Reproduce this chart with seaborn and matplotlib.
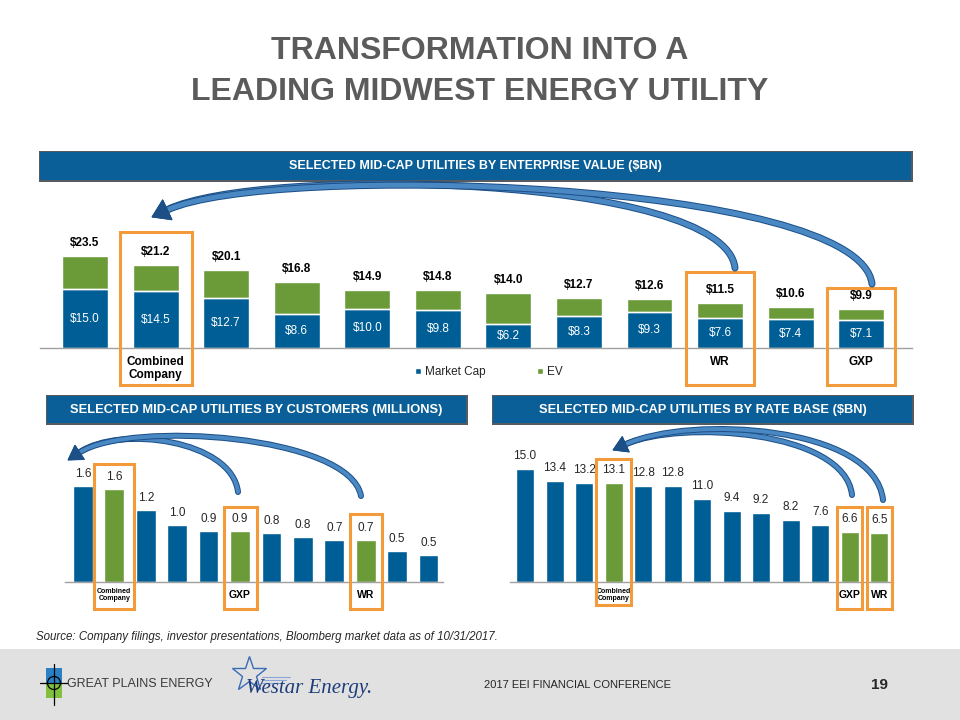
import numpy as np
import pandas as pd
import matplotlib
matplotlib.use("Agg")
import matplotlib.pyplot as plt
import seaborn as sns
from matplotlib.patches import Rectangle, Circle, PathPatch, Polygon
from matplotlib.path import Path

# ---------------- data ----------------
ev_total = [23.5, 21.2, 20.1, 16.8, 14.9, 14.8, 14.0, 12.7, 12.6, 11.5, 10.6, 9.9]
market_cap = [15.0, 14.5, 12.7, 8.6, 10.0, 9.8, 6.2, 8.3, 9.3, 7.6, 7.4, 7.1]
ev_ticks = ["", "Combined\nCompany", "", "", "", "", "", "", "", "WR", "", "GXP"]

customers = [1.60, 1.56, 1.20, 0.96, 0.86, 0.86, 0.82, 0.76, 0.70, 0.70, 0.52, 0.46]
cust_ticks = ["", "Combined\nCompany", "", "", "", "GXP", "", "", "", "WR", "", ""]

rate_base = [15.0, 13.4, 13.2, 13.1, 12.8, 12.8, 11.0, 9.4, 9.2, 8.2, 7.6, 6.6, 6.5]
rate_ticks = ["", "", "", "Combined\nCompany", "", "", "", "", "", "", "", "GXP", "WR"]

title_lines = ["TRANSFORMATION INTO A", "LEADING MIDWEST ENERGY UTILITY"]
banner_ev = "SELECTED MID-CAP UTILITIES BY ENTERPRISE VALUE ($BN)"
banner_cust = "SELECTED MID-CAP UTILITIES BY CUSTOMERS (MILLIONS)"
banner_rate = "SELECTED MID-CAP UTILITIES BY RATE BASE ($BN)"
source_text = "Source: Company filings, investor presentations, Bloomberg market data as of 10/31/2017."

# ---------------- style ----------------
BLUE = "#005e96"
GREEN = "#6b9a38"
ORANGE = "#f39b3a"
BANNER = "#0b5f98"
ARROW_FC = "#4a88c4"
ARROW_EC = "#1b4f86"
TXT = "#262626"

sns.set_theme(style="white")
plt.rcParams["font.family"] = ["Liberation Sans", "DejaVu Sans"]

W, H = 960, 720
fig = plt.figure(figsize=(9.6, 7.2), dpi=100)
fig.patch.set_facecolor("white")


def fax(x0, y0, x1, y1):
    return fig.add_axes([x0 / W, 1 - y1 / H, (x1 - x0) / W, (y1 - y0) / H])


def style_axis(ax, xlim, ylim):
    ax.set_xlim(*xlim)
    ax.set_ylim(*ylim)
    for s in ["left", "right", "top"]:
        ax.spines[s].set_visible(False)
    ax.spines["bottom"].set_color("#a0a0a0")
    ax.spines["bottom"].set_linewidth(1.0)
    ax.set_xticks([])
    ax.set_yticks([])
    ax.set_xlabel("")
    ax.set_ylabel("")
    ax.patch.set_visible(False)


# ---------------- top chart: enterprise value ----------------
ax1 = fax(40, 190, 912, 348)
df1 = pd.DataFrame({"pos": list(range(len(ev_total))), "ev": ev_total, "mc": market_cap})
sns.barplot(data=df1, x="pos", y="ev", color=GREEN, saturation=1, width=0.65,
            errorbar=None, ax=ax1, label="EV")
sns.barplot(data=df1, x="pos", y="mc", color=BLUE, saturation=1, width=0.65,
            errorbar=None, ax=ax1, label="Market Cap")
ax1.hlines(market_cap, np.arange(len(market_cap)) - 0.325, np.arange(len(market_cap)) + 0.325,
           color="white", lw=1.0, zorder=5)
style_axis(ax1, (-0.638, 11.72), (0, 40.5))
for i, (t, m) in enumerate(zip(ev_total, market_cap)):
    ax1.annotate(f"${t:.1f}", (i, t), xytext=(0, 13), textcoords="offset pixels",
                 ha="center", va="center", fontsize=8.5, fontweight="bold", color="black")
    ax1.annotate(f"${m:.1f}", (i, m / 2), ha="center", va="center",
                 fontsize=8.5, color="white")
for i, lab in enumerate(ev_ticks):
    if lab:
        ax1.annotate(lab, (i, 0), xytext=(0, -8), textcoords="offset pixels",
                     ha="center", va="top", fontsize=8.5, fontweight="bold",
                     color="black", linespacing=1.1, annotation_clip=False)
leg = ax1.legend(handles=[ax1.containers[1], ax1.containers[0]], labels=["Market Cap", "EV"],
                 loc="center", bbox_to_anchor=(489 / W, 1 - 372 / H),
                 bbox_transform=fig.transFigure, ncol=2, frameon=False, fontsize=8.5,
                 handlelength=0.45, handleheight=0.45, handletextpad=0.35,
                 columnspacing=4.4)

# ---------------- bottom-left chart: customers ----------------
ax2 = fax(65, 430, 443, 582)
df2 = pd.DataFrame({"pos": list(range(len(customers))), "val": customers,
                    "grp": ["hi" if t else "peer" for t in cust_ticks]})
sns.barplot(data=df2, x="pos", y="val", hue="grp", palette={"peer": BLUE, "hi": GREEN},
            dodge=False, saturation=1, width=0.63, errorbar=None, legend=False, ax=ax2)
style_axis(ax2, (-0.57, 11.46), (0, 152 / 59.75))
for i, v in enumerate(customers):
    ax2.annotate(f"{v:.1f}", (i, v), xytext=(0, 12), textcoords="offset pixels",
                 ha="center", va="center", fontsize=8.5, color=TXT)

# ---------------- bottom-right chart: rate base ----------------
ax3 = fax(510, 430, 893, 582)
df3 = pd.DataFrame({"pos": list(range(len(rate_base))), "val": rate_base,
                    "grp": ["hi" if t else "peer" for t in rate_ticks]})
sns.barplot(data=df3, x="pos", y="val", hue="grp", palette={"peer": BLUE, "hi": GREEN},
            dodge=False, saturation=1, width=0.61, errorbar=None, legend=False, ax=ax3)
style_axis(ax3, (-0.51, 12.47), (0, 152 / 7.53))
for i, v in enumerate(rate_base):
    ax3.annotate(f"{v:.1f}", (i, v), xytext=(0, 13), textcoords="offset pixels",
                 ha="center", va="center", fontsize=8.5, color=TXT)

for ax, ticks in [(ax2, cust_ticks), (ax3, rate_ticks)]:
    for i, lab in enumerate(ticks):
        if lab:
            small = "\n" in lab
            ax.annotate(lab, (i, 0), xytext=(0, -13), textcoords="offset pixels",
                        ha="center", va="center", fontsize=5 if small else 7.5,
                        fontweight="bold", color="black", linespacing=1.15,
                        annotation_clip=False)

# ---------------- overlay (pixel coordinates) ----------------
ov = fig.add_axes([0, 0, 1, 1], zorder=10)
ov.set_xlim(0, W)
ov.set_ylim(H, 0)
ov.axis("off")
ov.patch.set_visible(False)


def xpix(ax, i):
    return ax.transData.transform((i, 0))[0]


def box(ax, i, half, y0, y1):
    xc = xpix(ax, i)
    ov.add_patch(Rectangle((xc - half, y0), 2 * half, y1 - y0, fill=False,
                           ec=ORANGE, lw=2.2, zorder=6))


# highlight boxes
box(ax1, 1, 36, 232, 385)
box(ax1, 9, 34, 272, 385)
box(ax1, 11, 34, 288, 385)
box(ax2, 1, 20, 464, 609)
box(ax2, 5, 16.5, 507, 609)
box(ax2, 9, 16, 514, 609)
box(ax3, 3, 17.5, 459, 605)
box(ax3, 11, 12.5, 507, 609)
box(ax3, 12, 12.5, 507, 609)


def ribbon(p0, c1, c2, tip, w, hw, hl):
    """curved ribbon (cubic) ending in an arrowhead; all in pixels"""
    p0, c1, c2, tip = map(np.asarray, (p0, c1, c2, tip))
    d = tip - c2
    d = d / np.hypot(*d)
    n = np.array([-d[1], d[0]])
    base = tip - d * hl
    path = Path([p0, c1, c2, base], [Path.MOVETO, Path.CURVE4, Path.CURVE4, Path.CURVE4])
    ov.add_patch(PathPatch(path, fill=False, ec=ARROW_EC, lw=(w + 2) * 0.72,
                           capstyle="round", zorder=7))
    ov.add_patch(PathPatch(path, fill=False, ec=ARROW_FC, lw=w * 0.72,
                           capstyle="round", zorder=7))
    ov.add_patch(Polygon([tip, base + n * hw / 2, base - n * hw / 2], closed=True,
                         fc=ARROW_EC, ec=ARROW_EC, lw=0.6, zorder=8))


# top chart arrows
ribbon((735, 268), (725, 175), (260, 165), (152, 217), 5, 22, 17)
ribbon((872, 284), (860, 180), (270, 163), (152, 217), 5, 22, 17)
# bottom-left arrows
ribbon((238, 492), (232, 440), (120, 425), (68, 460), 4, 17, 14)
ribbon((361, 496), (350, 435), (130, 420), (68, 460), 4, 17, 14)
# bottom-right arrows
ribbon((852, 495), (845, 430), (680, 420), (613, 450), 4, 17, 14)
ribbon((883, 500), (875, 425), (690, 415), (613, 450), 4, 17, 14)


def banner(x0, y0, x1, y1, text, fs):
    ov.add_patch(Rectangle((x0 - 1, y0 - 1), x1 - x0 + 3, y1 - y0 + 3, fc="#555b60",
                           ec="none", zorder=2))
    ov.add_patch(Rectangle((x0, y0), x1 - x0, y1 - y0, fc=BANNER, ec="none", zorder=3))
    ov.text((x0 + x1) / 2, (y0 + y1) / 2 + 0.5, text, ha="center", va="center",
            color="white", fontsize=fs, fontweight="bold", zorder=4)


banner(40, 152, 911, 180, banner_ev, 9)
banner(47, 396, 466, 423, banner_cust, 9.3)
banner(493, 396, 912, 423, banner_rate, 9.3)

# title
ov.text(480, 51, title_lines[0], ha="center", va="center", fontsize=23,
        fontweight="bold", color="#5b5b5b")
ov.text(480, 92, title_lines[1], ha="center", va="center", fontsize=23,
        fontweight="bold", color="#5b5b5b")

# source
ov.text(36, 637, source_text, ha="left", va="center", fontsize=8.3, style="italic",
        color=TXT)

# footer band
ov.add_patch(Rectangle((0, 649), W, 71, fc="#e1e1e1", ec="none", zorder=1))
# Great Plains Energy logo (approximation)
ov.add_patch(Rectangle((46, 668), 16, 15, fc="#2b80c4", ec="none", zorder=2))
ov.add_patch(Rectangle((46, 683), 16, 15, fc="#82bf3d", ec="none", zorder=2))
ov.add_patch(Circle((54, 683), 6.5, fill=False, ec="black", lw=0.9, zorder=3))
ov.plot([54, 54], [664, 705], color="black", lw=0.9, zorder=3)
ov.plot([40, 68], [683, 683], color="black", lw=0.9, zorder=3)
ov.text(67, 684, "GREAT PLAINS ENERGY", ha="left", va="center", fontsize=9,
        color="#3a3a3a", zorder=3)
# Westar Energy logo (approximation)
ov.plot([249], [674], marker="*", ms=26, mfc="none", mec="#3a6bb5", mew=1.0, zorder=3)
for k, yy in enumerate([677, 680, 683]):
    ov.plot([262, 290 - 4 * k], [yy, yy], color="#8aa6d6", lw=0.8, zorder=3)
ov.text(246, 688, "Westar Energy.", ha="left", va="center", fontsize=15,
        color="#1e3c7a", family=["Liberation Serif", "DejaVu Serif"], style="italic", zorder=3)
ov.text(577, 685, "2017 EEI FINANCIAL CONFERENCE", ha="center", va="center",
        fontsize=8, color=TXT, zorder=3)
ov.text(880, 685, "19", ha="center", va="center", fontsize=11, fontweight="bold",
        color=TXT, zorder=3)

fig.savefig("out.png", dpi=100)
